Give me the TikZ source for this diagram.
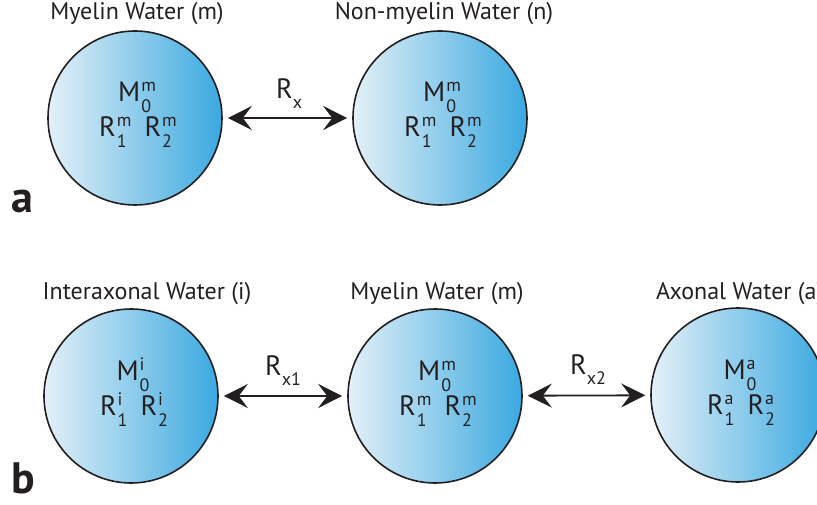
\documentclass[tikz,border=0pt]{standalone}
\usepackage{fontspec}
\setmainfont{PT Sans}
\usetikzlibrary{arrows.meta}
\definecolor{WaterLight}{HTML}{E4F0F8}
\definecolor{WaterDark}{HTML}{3AA9E0}
\definecolor{InkBlack}{HTML}{231F20}

% script size for the indices
\newcommand{\idxfont}{\fontsize{18}{18}\selectfont}
% symbol with stacked super- and subscript
\newlength{\supw}\newlength{\subw}
\newcommand{\pool}[3]{#1\kern1pt%
  \settowidth{\supw}{\idxfont #2}\settowidth{\subw}{\idxfont #3}%
  \rlap{\raisebox{10pt}{\idxfont #2}}\raisebox{-11pt}{\idxfont #3}%
  \ifdim\supw>\subw\kern\dimexpr\supw-\subw\relax\fi}

\begin{document}
\begin{tikzpicture}[x=1pt,y=-1pt,>={Stealth[length=24pt,width=24pt,inset=9pt]},
  water/.style={circle,draw=InkBlack,line width=1.6pt,minimum size=174pt,inner sep=0pt,
    left color=WaterLight,right color=WaterDark},
  title/.style={font=\fontsize{24}{24}\selectfont,text=InkBlack,anchor=base,inner sep=0pt},
  sym/.style={font=\fontsize{28}{28}\selectfont,text=InkBlack,anchor=base,inner sep=0pt},
  rate/.style={font=\fontsize{28}{28}\selectfont,text=InkBlack,anchor=base west,inner sep=0pt},
  panel/.style={font=\fontsize{44}{44}\selectfont\bfseries,text=InkBlack,anchor=base west,inner sep=0pt},
  exch/.style={<->,draw=InkBlack,line width=1.8pt,shorten <=5pt,shorten >=5pt}]

\useasboundingbox (0,0) rectangle (817,505);

% ---- PANEL A: two pools ----
\node[water] (myelA) at (135,118) {};
\node[water] (nonA) at (440,118) {};

\node[sym] (myelAM) at ([xshift=2pt,yshift=16pt]myelA.center) {\pool{M}{m}{0}};
\node[sym] (myelAR) at ([xshift=3pt,yshift=-19pt]myelA.center) {\pool{R}{m}{1}\hspace{13pt}\pool{R}{m}{2}};
\node[sym] (nonAM) at ([xshift=2pt,yshift=16pt]nonA.center) {\pool{M}{m}{0}};
\node[sym] (nonAR) at ([xshift=3pt,yshift=-19pt]nonA.center) {\pool{R}{m}{1}\hspace{13pt}\pool{R}{m}{2}};

\node[title] (myelAt) at (137,20) {Myelin Water (m)};
\node[title] (nonAt) at (444,20) {Non-myelin Water (n)};

\draw[exch] (myelA) -- (nonA);
\node[rate] (rx) at (276,99) {R\raisebox{-10pt}{\idxfont x}};

\node[panel] (pa) at (11,213) {a};

% ---- PANEL B: three pools ----
\node[water] (interB) at (131,396) {};
\node[water] (myelB) at (435,396) {};
\node[water] (axonB) at (738,395) {};

\node[sym] (interBM) at ([xshift=2pt,yshift=16pt]interB.center) {\pool{M}{i}{0}};
\node[sym] (interBR) at ([xshift=3pt,yshift=-19pt]interB.center) {\pool{R}{i}{1}\hspace{13pt}\pool{R}{i}{2}};
\node[sym] (myelBM) at ([xshift=2pt,yshift=16pt]myelB.center) {\pool{M}{m}{0}};
\node[sym] (myelBR) at ([xshift=3pt,yshift=-19pt]myelB.center) {\pool{R}{m}{1}\hspace{13pt}\pool{R}{m}{2}};
\node[sym] (axonBM) at ([xshift=2pt,yshift=16pt]axonB.center) {\pool{M}{a}{0}};
\node[sym] (axonBR) at ([xshift=3pt,yshift=-19pt]axonB.center) {\pool{R}{a}{1}\hspace{13pt}\pool{R}{a}{2}};

\node[title] (interBt) at (147,299) {Interaxonal Water (i)};
\node[title] (myelBt) at (437,299) {Myelin Water (m)};
\node[title,anchor=base west] (axonBt) at (656,299) {Axonal Water (a)};

\draw[exch] (interB) -- (myelB);
\draw[exch] (myelB) -- (axonB);
\node[rate] (rx1) at (265,375) {R\raisebox{-10pt}{\idxfont x1}};
\node[rate] (rx2) at (570,374) {R\raisebox{-10pt}{\idxfont x2}};

\node[panel] (pb) at (11,493) {b};

\end{tikzpicture}
\end{document}
